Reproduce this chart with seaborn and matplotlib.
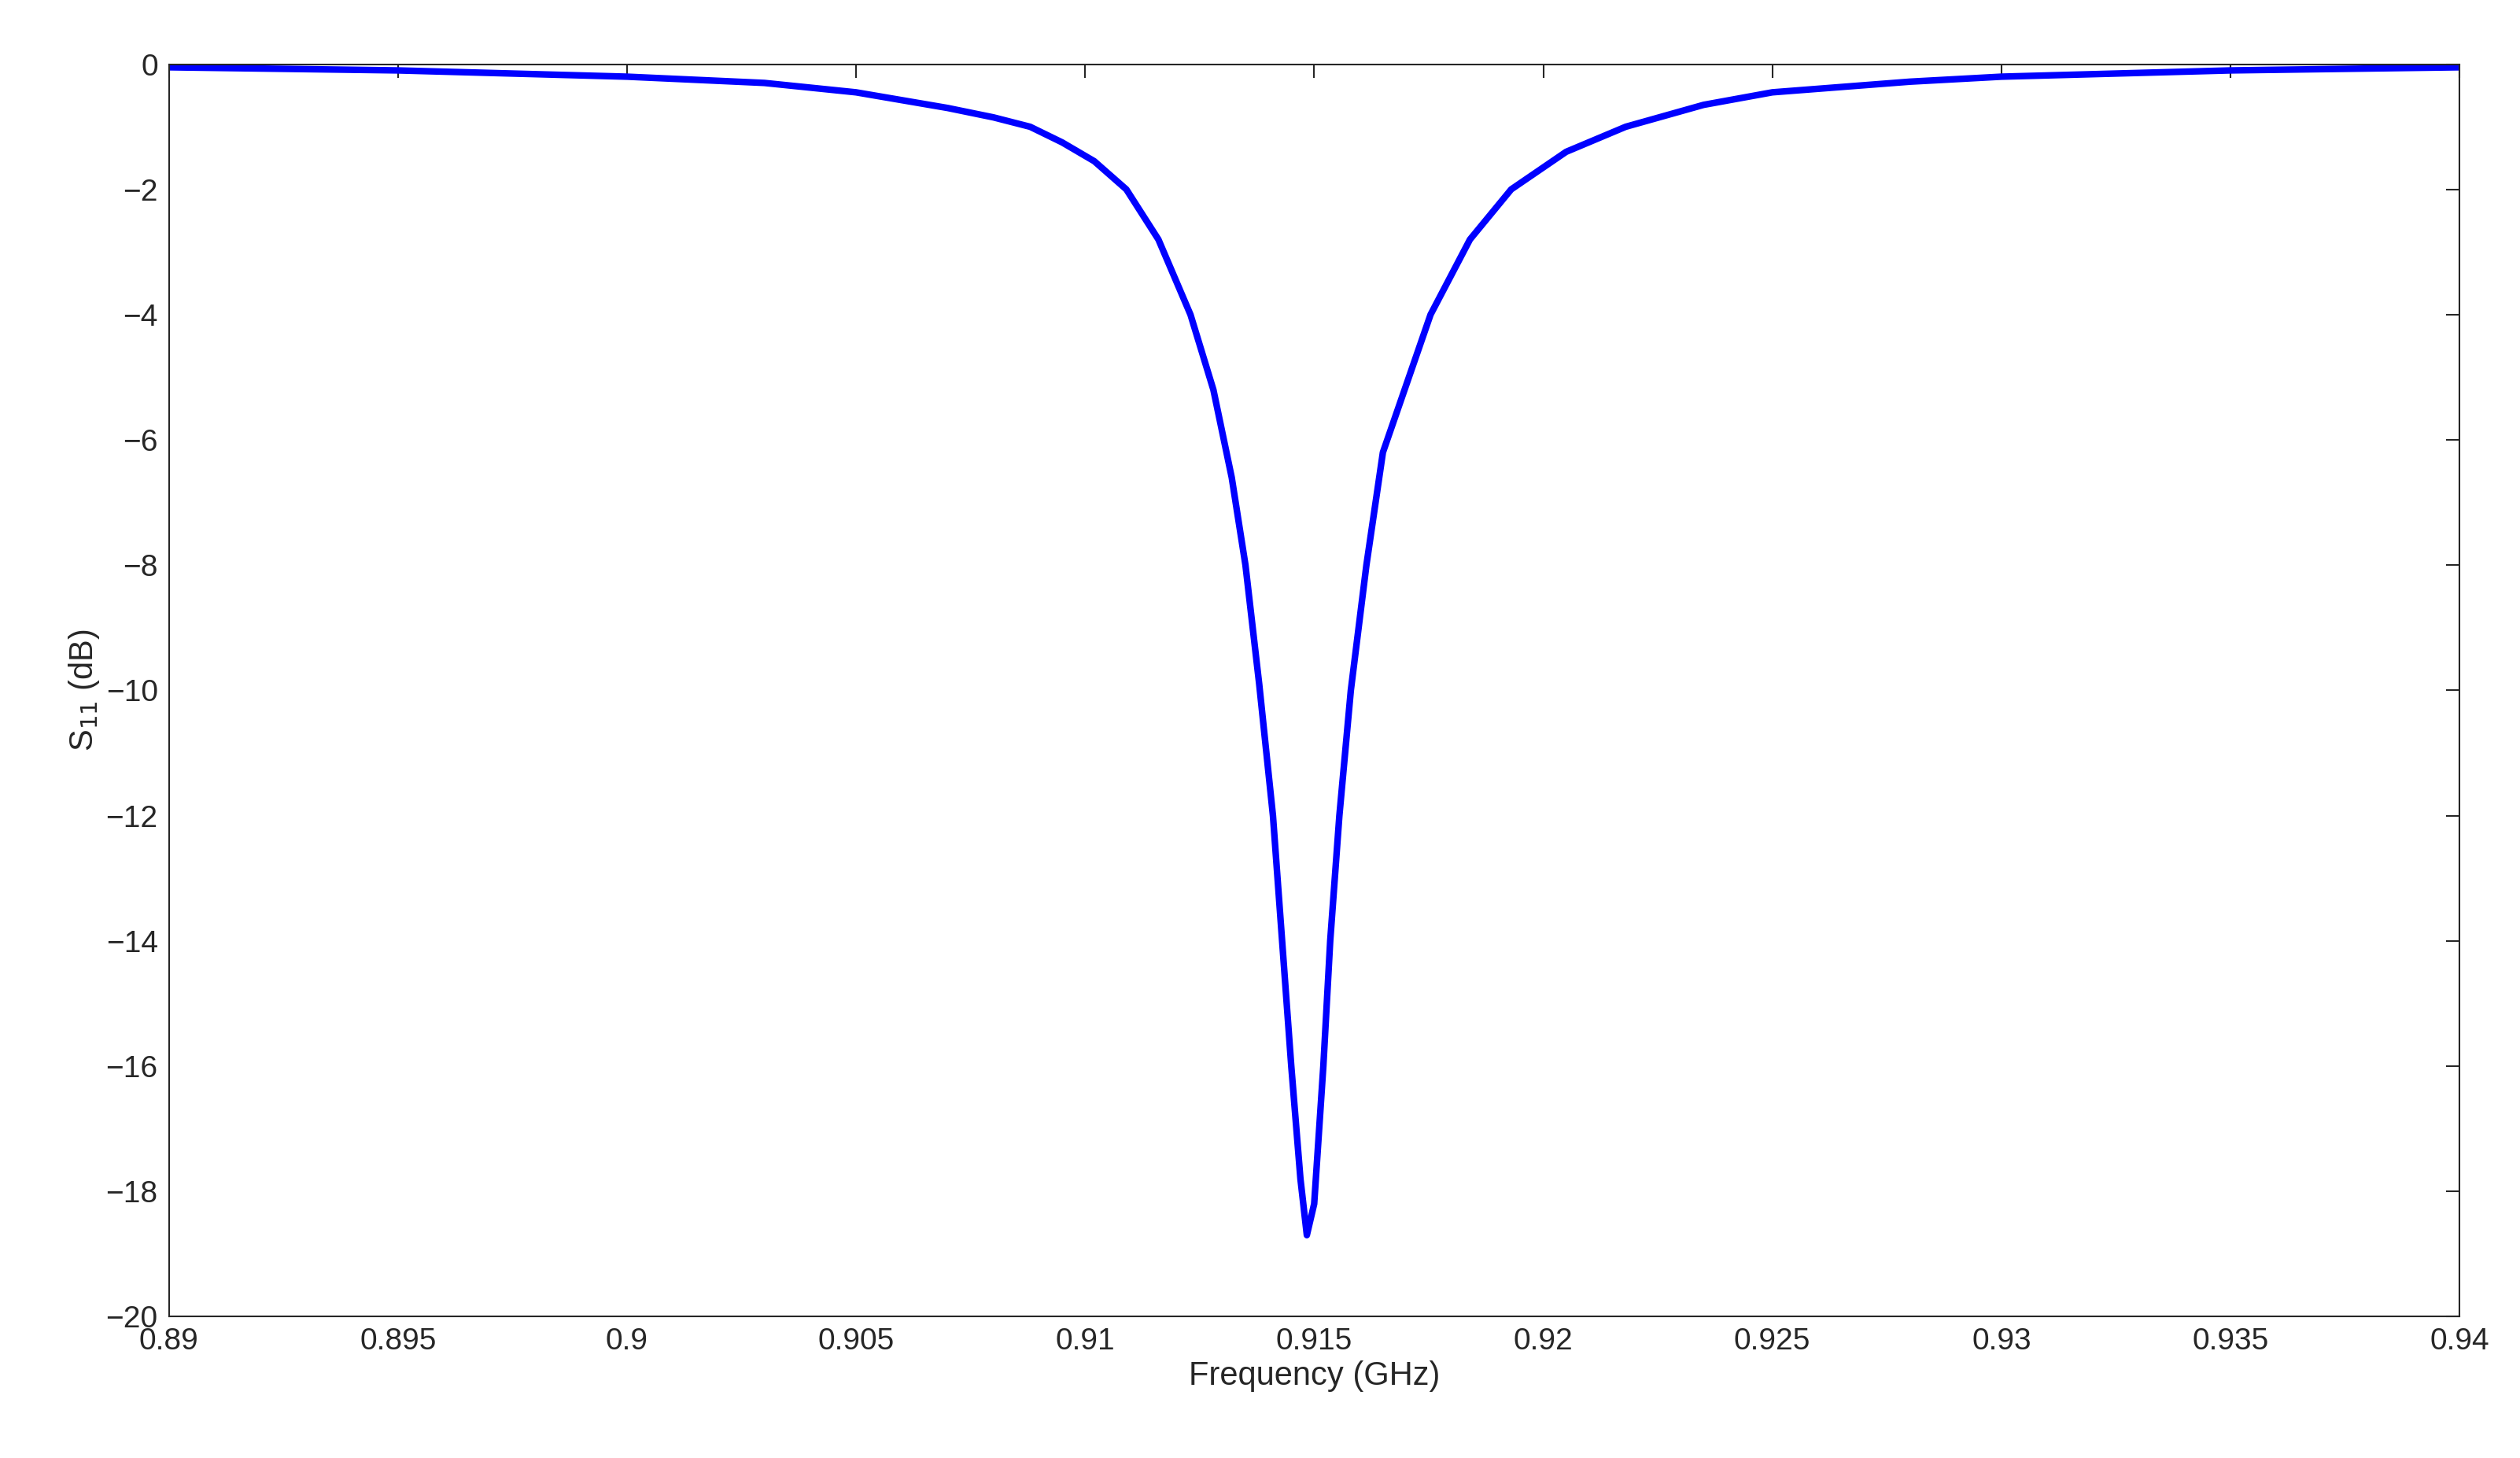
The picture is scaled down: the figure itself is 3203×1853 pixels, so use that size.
import matplotlib
matplotlib.use("Agg")
import matplotlib.pyplot as plt
import seaborn as sns

freq_ghz = [0.890, 0.895, 0.900, 0.903, 0.905, 0.907, 0.908, 0.9088, 0.9095, 0.9102,
            0.9109, 0.9116, 0.9123, 0.9128, 0.9132, 0.9135, 0.9138, 0.9141, 0.9143,
            0.9145, 0.9147, 0.91484, 0.9150, 0.9152, 0.91535, 0.91555, 0.9158,
            0.91614, 0.9165, 0.91754, 0.9184, 0.9193, 0.9205, 0.9218, 0.9235,
            0.925, 0.928, 0.930, 0.935, 0.940]
s11_db = [-0.05, -0.1, -0.2, -0.3, -0.45, -0.7, -0.85, -1.0, -1.25, -1.55,
          -2.0, -2.8, -4.0, -5.2, -6.6, -8.0, -9.9, -12.0, -14.0,
          -16.0, -17.8, -18.7, -18.2, -16.0, -14.0, -12.0, -10.0,
          -8.0, -6.2, -4.0, -2.8, -2.0, -1.4, -1.0, -0.65,
          -0.45, -0.28, -0.2, -0.1, -0.05]

sns.set_style("white")
plt.rcParams["font.family"] = ["Liberation Sans", "DejaVu Sans"]

fig, ax = plt.subplots(figsize=(32.03, 18.53), dpi=100)
fig.subplots_adjust(left=0.067, right=0.976, top=0.956, bottom=0.097)
sns.lineplot(x=freq_ghz, y=s11_db, ax=ax, color="#0000ff", linewidth=6)

ax.set_xlim(0.89, 0.94)
ax.set_ylim(-20, 0)
ax.set_xticks([0.89 + 0.005 * i for i in range(11)])
ax.set_xticklabels(["0.89", "0.895", "0.9", "0.905", "0.91", "0.915",
                    "0.92", "0.925", "0.93", "0.935", "0.94"])
ax.set_yticks(range(-20, 1, 2))
ax.tick_params(direction="in", length=12, width=1.5, labelsize=28,
               colors="#262626", top=True, right=True, pad=10)
for s in ax.spines.values():
    s.set_color("#262626")
    s.set_linewidth(1.5)
ax.set_xlabel("Frequency (GHz)", fontsize=30, color="#262626")
ax.set_ylabel("S$_{11}$ (dB)", fontsize=30, color="#262626")

fig.savefig("out.png", dpi=100)
plt.close(fig)
